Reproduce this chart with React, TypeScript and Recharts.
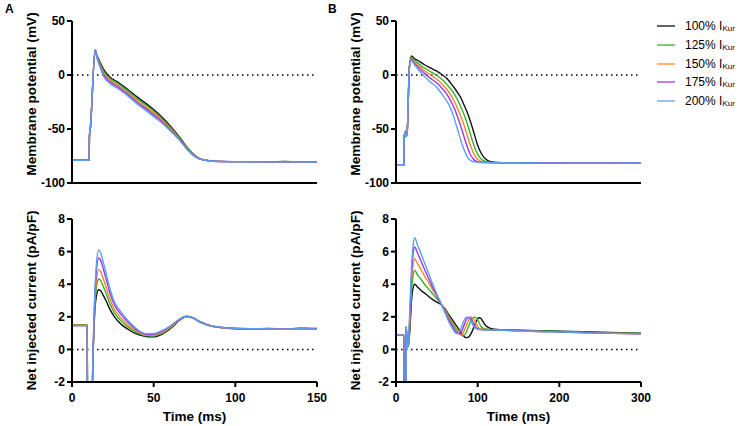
import React from 'react'
import { LineChart, Line, XAxis, YAxis, ReferenceLine, Legend } from 'recharts'

const FONT = "'Liberation Sans', Arial, Helvetica, sans-serif"

const LEVELS = ['100%', '125%', '150%', '175%', '200%']
const KEYS = ['p100', 'p125', 'p150', 'p175', 'p200']
const COLORS = ['#111111', '#2fb52f', '#ff8424', '#a236e3', '#5c9ff2']

// A, membrane potential (mV) vs time (ms)
const tA1 = [0, 10.5, 10.7, 11.2, 14.2, 15, 17, 20, 23, 28, 33, 40, 45, 50, 55, 60, 65, 68, 71, 74, 77, 80, 85, 90, 100, 110, 120, 130, 140, 150]
const vA1_100 = [-79, -79, -56, -50, 23.5, 19.5, 12.4, 3.7, -1.6, -6.5, -12, -20.5, -26, -32, -39, -47, -56, -62, -68, -73, -76.5, -78.3, -79.5, -80, -80.2, -80.2, -80.3, -80.1, -80.4, -80.4]
const vA1_125 = [-79, -79, -56, -50, 23.5, 19, 11.3, 2.1, -3.1, -8, -13.5, -22.1, -27.6, -33.6, -40.4, -48.1, -56.8, -62.6, -68.5, -73.3, -76.7, -78.4, -79.5, -80, -80.2, -80.3, -80.2, -80.2, -80.3, -80.4]
const vA1_150 = [-79, -79, -56, -50, 23.5, 18.5, 10.2, 0.5, -4.6, -9.5, -15, -23.8, -29.3, -35.3, -41.8, -49.3, -57.5, -63.3, -69, -73.6, -76.8, -78.4, -79.6, -80, -80.3, -80.2, -80.3, -80.3, -80.4, -80.5]
const vA1_175 = [-79, -79, -56, -50, 23.5, 18, 9, -1.2, -6.1, -11, -16.5, -25.4, -30.9, -36.9, -43.1, -50.4, -58.3, -63.9, -69.5, -73.9, -77, -78.5, -79.6, -80.1, -80.2, -80.3, -80.4, -80.3, -80.4, -80.5]
const vA1_200 = [-79, -79, -56, -50, 23.5, 17.5, 7.9, -2.8, -7.6, -12.5, -18, -27, -32.5, -38.5, -44.5, -51.5, -59, -64.5, -70, -74.2, -77.1, -78.5, -79.6, -80.1, -80.3, -80.3, -80.4, -80.4, -80.5, -80.5]

// A, net injected current (pA/pF)
const tA2 = [0, 9.4, 9.5, 12.4, 12.5, 13.2, 14, 15, 16.3, 17.5, 19, 21, 23, 26, 30, 34, 38, 42, 46, 50, 54, 58, 62, 66, 70, 74, 78, 82, 86, 90, 95, 100, 110, 120, 130, 140, 150]
const iA2_100 = [1.5, 1.5, -8, -8, -2.5, 0.5, 2.4, 3.3, 3.66, 3.6, 3.35, 2.95, 2.5, 2.0, 1.55, 1.25, 1.02, 0.87, 0.78, 0.77, 0.88, 1.1, 1.42, 1.8, 2.02, 1.95, 1.72, 1.55, 1.42, 1.35, 1.3, 1.27, 1.25, 1.28, 1.25, 1.3, 1.28]
const iA2_125 = [1.5, 1.5, -8, -8, -2.5, 0.64, 2.7, 3.84, 4.32, 4.23, 3.9, 3.4, 2.85, 2.24, 1.75, 1.4, 1.12, 0.93, 0.83, 0.82, 0.94, 1.15, 1.46, 1.82, 2.02, 1.94, 1.71, 1.54, 1.42, 1.35, 1.31, 1.28, 1.26, 1.27, 1.25, 1.29, 1.27]
const iA2_150 = [1.49, 1.49, -8, -8, -2.5, 0.75, 2.95, 4.3, 4.88, 4.78, 4.38, 3.78, 3.15, 2.45, 1.93, 1.53, 1.21, 0.98, 0.87, 0.87, 0.99, 1.2, 1.5, 1.84, 2.02, 1.93, 1.7, 1.53, 1.42, 1.36, 1.31, 1.28, 1.26, 1.27, 1.25, 1.28, 1.26]
const iA2_175 = [1.46, 1.46, -8, -8, -2.5, 0.9, 3.28, 4.9, 5.61, 5.48, 5.0, 4.27, 3.54, 2.72, 2.15, 1.69, 1.32, 1.04, 0.92, 0.93, 1.06, 1.26, 1.55, 1.86, 2.03, 1.92, 1.69, 1.52, 1.42, 1.37, 1.32, 1.29, 1.27, 1.26, 1.24, 1.27, 1.25]
const iA2_200 = [1.45, 1.45, -8, -8, -2.5, 1.0, 3.5, 5.3, 6.1, 5.95, 5.4, 4.6, 3.8, 2.9, 2.3, 1.8, 1.4, 1.08, 0.96, 0.97, 1.1, 1.3, 1.58, 1.88, 2.03, 1.92, 1.68, 1.52, 1.42, 1.37, 1.32, 1.3, 1.27, 1.26, 1.24, 1.27, 1.24]

// B, membrane potential (mV)
const tB1 = [0, 9.8, 10, 11.5, 12, 13.5, 16.5, 19, 22, 29, 35, 42, 50, 56, 62, 67, 72, 76, 80, 84, 88, 92, 96, 100, 104, 108, 112, 116, 120, 125, 130, 150, 200, 250, 300]
const vB1_100 = [-83, -83, -58, -52, -57, -55, 8, 17.7, 15.5, 12.4, 9.5, 6.5, 3.5, 0.5, -3, -7.5, -12.5, -17, -22, -29, -36, -45, -55, -65, -72, -76.5, -79, -80.3, -80.8, -81, -81.1, -81.2, -81.3, -81.4, -81.5]
const vB1_125 = [-83, -83, -58, -52, -57, -55, 8, 16.3, 13.8, 9.8, 6.5, 3.2, -0.5, -4, -8.5, -13, -18.5, -24, -30.5, -38, -47, -57, -66.5, -73.5, -77.5, -79.6, -80.5, -80.9, -81, -81.1, -81.2, -81.2, -81.3, -81.4, -81.5]
const vB1_150 = [-83, -83, -58, -52, -57, -55, 8, 15.3, 12.5, 7.8, 4, 0.2, -4, -8, -13, -18.5, -25.5, -32, -39.5, -48, -58, -67, -74, -78, -80, -80.7, -81, -81.1, -81.1, -81.2, -81.2, -81.3, -81.3, -81.4, -81.5]
const vB1_175 = [-83, -83, -58, -52, -57, -55, 8, 14.6, 11.3, 5.8, 1.5, -3, -7.5, -12, -17.5, -24, -32, -40, -49, -59, -68, -75, -78.8, -80.4, -80.9, -81, -81.1, -81.1, -81.2, -81.2, -81.2, -81.3, -81.3, -81.4, -81.5]
const vB1_200 = [-83, -83, -58, -52, -57, -55, 8, 13.6, 10, 3.5, -1.5, -6.5, -11.5, -17.5, -24, -31, -42, -52, -62, -70.5, -76.5, -79.5, -80.5, -80.9, -81, -81.1, -81.1, -81.2, -81.2, -81.2, -81.3, -81.3, -81.4, -81.4, -81.5]

// B, net injected current (pA/pF)
const tB2 = [0, 9.8, 10, 12.4, 12.6, 13.6, 15, 17, 19, 21, 23, 26, 30, 35, 40, 45, 50, 55, 60, 65, 70, 72, 74, 76, 78, 80, 82, 84, 86, 88, 90, 92, 94, 96, 98, 100, 102, 104, 106, 108, 110, 115, 120, 130, 150, 175, 200, 250, 300]
const iB2_100 = [0.9, 0.9, -8, -8, 1.4, 0.15, 0.2, 1.2, 3.0, 3.8, 4.0, 3.85, 3.65, 3.45, 3.25, 3.05, 2.9, 2.75, 2.5, 2.1, 1.75, 1.6, 1.45, 1.3, 1.15, 1.0, 0.87, 0.77, 0.72, 0.74, 0.82, 0.98, 1.2, 1.45, 1.7, 1.88, 1.94, 1.9, 1.75, 1.58, 1.45, 1.3, 1.24, 1.2, 1.18, 1.14, 1.12, 1.05, 1.0]
const iB2_125 = [0.9, 0.9, -8, -8, 1.4, 0.15, 0.22, 1.6, 3.6, 4.55, 4.85, 4.6, 4.35, 4.0, 3.7, 3.4, 3.1, 2.8, 2.45, 2.0, 1.55, 1.4, 1.25, 1.1, 0.98, 0.88, 0.84, 0.88, 1.05, 1.3, 1.55, 1.78, 1.92, 1.98, 1.95, 1.8, 1.6, 1.42, 1.32, 1.27, 1.25, 1.22, 1.2, 1.2, 1.17, 1.13, 1.1, 1.03, 0.98]
const iB2_150 = [0.9, 0.9, -8, -8, 1.4, 0.15, 0.25, 1.9, 4.2, 5.25, 5.56, 5.3, 4.95, 4.5, 4.1, 3.65, 3.25, 2.8, 2.4, 1.9, 1.45, 1.3, 1.15, 1.02, 0.93, 0.9, 0.98, 1.2, 1.45, 1.7, 1.88, 1.97, 1.95, 1.8, 1.58, 1.4, 1.3, 1.26, 1.24, 1.22, 1.22, 1.2, 1.19, 1.18, 1.15, 1.1, 1.08, 1.0, 0.96]
const iB2_175 = [0.9, 0.9, -8, -8, 1.4, 0.15, 0.28, 2.2, 4.6, 5.9, 6.28, 5.95, 5.5, 4.9, 4.35, 3.8, 3.3, 2.8, 2.3, 1.8, 1.35, 1.18, 1.05, 0.97, 0.95, 1.05, 1.3, 1.58, 1.82, 1.95, 1.98, 1.88, 1.68, 1.48, 1.35, 1.27, 1.24, 1.22, 1.21, 1.2, 1.2, 1.2, 1.19, 1.18, 1.14, 1.1, 1.07, 1.0, 0.95]
const iB2_200 = [0.9, 0.9, -8, -8, 1.4, 0.15, 0.3, 2.5, 5.0, 6.4, 6.85, 6.45, 5.95, 5.3, 4.65, 4.0, 3.4, 2.85, 2.25, 1.65, 1.2, 1.05, 0.98, 0.97, 1.1, 1.35, 1.62, 1.85, 1.96, 1.98, 1.9, 1.72, 1.5, 1.35, 1.27, 1.23, 1.22, 1.21, 1.2, 1.2, 1.2, 1.19, 1.18, 1.17, 1.13, 1.1, 1.06, 1.0, 0.95]

const X_TICKS_A = [0, 50, 100, 150]
const X_TICKS_B = [0, 100, 200, 300]
const V_TICKS = [-100, -50, 0, 50]
const I_TICKS = [-2, 0, 2, 4, 6, 8]

function rows(t: number[], series: number[][]) {
  return t.map((x, i) => {
    const r: any = { t: x }
    KEYS.forEach((k, j) => { r[k] = series[j][i] })
    return r
  })
}

const dataA1 = rows(tA1, [vA1_100, vA1_125, vA1_150, vA1_175, vA1_200])
const dataA2 = rows(tA2, [iA2_100, iA2_125, iA2_150, iA2_175, iA2_200])
const dataB1 = rows(tB1, [vB1_100, vB1_125, vB1_150, vB1_175, vB1_200])
const dataB2 = rows(tB2, [iB2_100, iB2_125, iB2_150, iB2_175, iB2_200])

const axisLine = { stroke: '#000', strokeWidth: 2 }
const tickStyle = { fontSize: 12, fontWeight: 700, fill: '#000', fontFamily: FONT }

function YTitle(props: any) {
  const { viewBox, text, shift = 0 } = props
  if (!viewBox) return null
  const cx = viewBox.x + viewBox.width - 40.5
  const cy = viewBox.y + viewBox.height / 2 + shift
  return (
    <text x={cx} y={cy} transform={`rotate(-90 ${cx} ${cy})`} textAnchor="middle" dominantBaseline="central"
      fontSize={13.7} fontWeight={700} fontFamily={FONT} fill="#000">{text}</text>
  )
}

function LegendBox({ payload }: any) {
  return (
    <div style={{ fontFamily: FONT, fontSize: 12, color: '#000' }}>
      {(payload || []).map((p: any, i: number) => (
        <div key={i} style={{ display: 'flex', alignItems: 'center', height: 18.7, whiteSpace: 'nowrap' }}>
          <svg width={18} height={4} style={{ marginRight: 10, display: 'block' }}>
            <line x1={0} y1={2} x2={18} y2={2} stroke={p.color} strokeWidth={1.3} />
          </svg>
          <span>{p.value} I<span style={{ fontSize: 8, position: 'relative', top: 1 }}>Kur</span></span>
        </div>
      ))}
    </div>
  )
}

function Panel(props: any) {
  const { data, width, height, margin, xMax, xTicks, yDomain, yTicks, title, titleShift, bottom, legend } = props
  return (
    <LineChart width={width} height={height} data={data} margin={margin}>
      <XAxis type="number" dataKey="t" domain={[0, xMax]} ticks={xTicks} interval={0}
        axisLine={axisLine} tickLine={axisLine} tickSize={5} tickMargin={6}
        tick={bottom ? tickStyle : false} height={bottom ? 44 : 17}
        label={bottom ? { value: 'Time (ms)', position: 'insideBottom', offset: 5, fontSize: 13.5, fontWeight: 700, fill: '#000', fontFamily: FONT } : undefined} />
      <YAxis type="number" domain={yDomain} ticks={yTicks} interval={0} allowDataOverflow width={72}
        axisLine={axisLine} tickLine={axisLine} tickSize={5} tickMargin={2} tick={tickStyle}
        label={<YTitle text={title} shift={titleShift} />} />
      <ReferenceLine y={0} stroke="#000" strokeWidth={1.5} strokeDasharray="1.5 3.5" />
      {legend && (
        <Legend layout="vertical" align="center" verticalAlign="middle" content={<LegendBox />}
          wrapperStyle={{ left: 333, top: 17, width: 90, height: 'auto' }} />
      )}
      {KEYS.map((k, i) => (
        <Line key={k} dataKey={k} name={LEVELS[i]} type="monotone" stroke={COLORS[i]} strokeWidth={1.4}
          dot={false} activeDot={false} isAnimationActive={false} />
      ))}
    </LineChart>
  )
}

export default function App() {
  const letter = { position: 'absolute' as const, fontSize: 12, fontWeight: 700, fontFamily: FONT, lineHeight: '14px' }
  return (
    <div style={{ position: 'absolute', left: 0, top: 0, width: 742, height: 426, background: '#fff', fontFamily: FONT }}>
      <div style={{ position: 'absolute', left: 0, top: 0 }}>
        <Panel data={dataA1} width={330} height={200} margin={{ top: 21, right: 13, bottom: 0, left: 0 }}
          xMax={150} xTicks={X_TICKS_A} yDomain={[-100, 50]} yTicks={V_TICKS}
          title="Membrane potential (mV)" titleShift={-8} />
      </div>
      <div style={{ position: 'absolute', left: 0, top: 200 }}>
        <Panel data={dataA2} width={330} height={226} margin={{ top: 19, right: 13, bottom: 0, left: 0 }}
          xMax={150} xTicks={X_TICKS_A} yDomain={[-2, 8]} yTicks={I_TICKS}
          title="Net injected current (pA/pF)" titleShift={0} bottom />
      </div>
      <div style={{ position: 'absolute', left: 324, top: 0 }}>
        <Panel data={dataB1} width={418} height={200} margin={{ top: 21, right: 101, bottom: 0, left: 0 }}
          xMax={300} xTicks={X_TICKS_B} yDomain={[-100, 50]} yTicks={V_TICKS}
          title="Membrane potential (mV)" titleShift={-8} legend />
      </div>
      <div style={{ position: 'absolute', left: 324, top: 200 }}>
        <Panel data={dataB2} width={330} height={226} margin={{ top: 19, right: 13, bottom: 0, left: 0 }}
          xMax={300} xTicks={X_TICKS_B} yDomain={[-2, 8]} yTicks={I_TICKS}
          title="Net injected current (pA/pF)" titleShift={0} bottom />
      </div>
      <div style={{ ...letter, left: 5, top: 2 }}>A</div>
      <div style={{ ...letter, left: 328, top: 2 }}>B</div>
    </div>
  )
}
